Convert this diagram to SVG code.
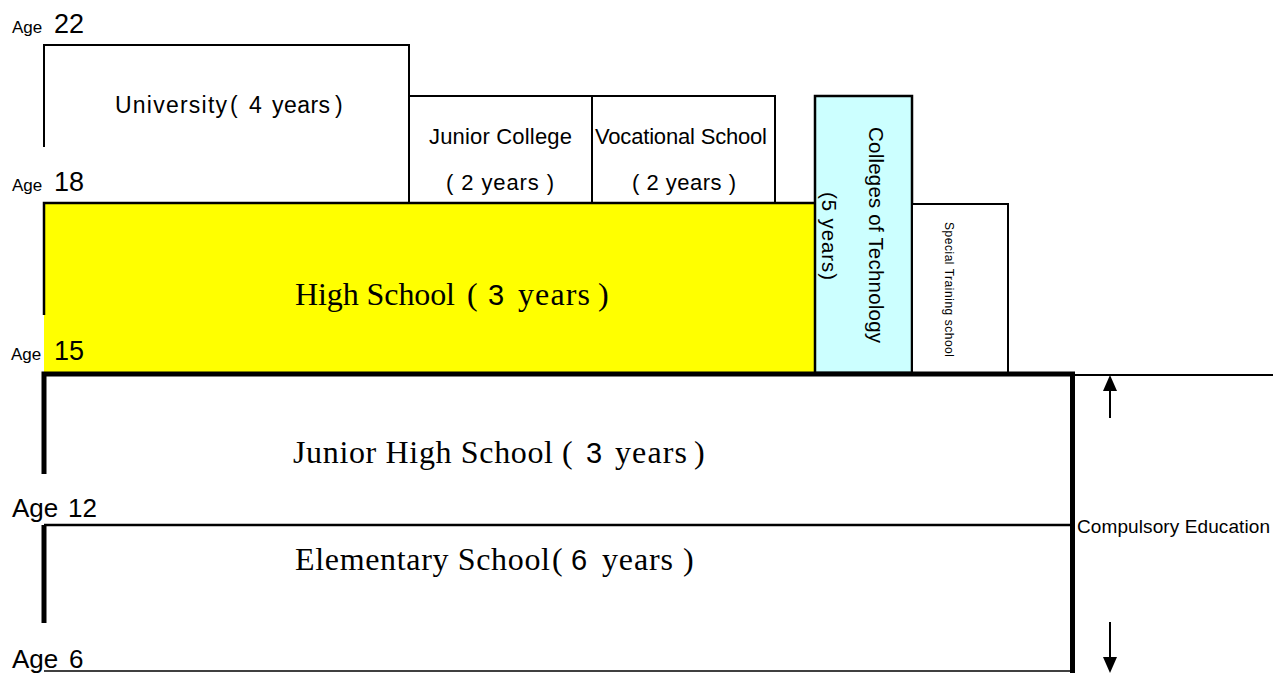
<svg xmlns="http://www.w3.org/2000/svg" width="1273" height="673" viewBox="0 0 1273 673">
<style>
.ln{stroke:#000;stroke-width:2;fill:none}
.thk{stroke:#000;stroke-width:5;fill:none}
.sans{font-family:"Liberation Sans",Arial,sans-serif;fill:#000}
.serif{font-family:"Liberation Serif","Times New Roman",serif;fill:#000}
.age{font-size:17px}
.num{font-size:27px}
.box{font-size:22px}
.big{font-size:32px}
.dig{font-family:"Liberation Sans",Arial,sans-serif;font-size:29px}
.arrow{fill:#000}
</style>
<rect width="1273" height="673" fill="#fff"/>

<g id="university">
<path class="ln" d="M44,147 V45 H409 V203"/>
<text class="sans" style="font-size:23px" x="115" y="113"><tspan textLength="112" lengthAdjust="spacing">University</tspan><tspan x="230">(</tspan><tspan x="249">4</tspan><tspan x="272" textLength="58" lengthAdjust="spacing">years</tspan><tspan x="335">)</tspan></text>
</g>

<g id="junior-college">
<path class="ln" d="M409,96 H592 V203"/>
<text class="sans box" x="429" y="144" textLength="143" lengthAdjust="spacing">Junior College</text>
<text class="sans box" x="446" y="190" textLength="108" lengthAdjust="spacing">( 2 years )</text>
</g>

<g id="vocational-school">
<path class="ln" d="M592,96 H775 V203"/>
<text class="sans box" x="595" y="144" textLength="172" lengthAdjust="spacing">Vocational School</text>
<text class="sans box" x="632" y="190" textLength="104" lengthAdjust="spacing">( 2 years )</text>
</g>

<g id="high-school">
<rect x="44" y="203" width="772" height="170" fill="#ffff00"/>
<path class="ln" d="M44,315 V203 H816" style="stroke-width:2.5"/>
<text class="serif big" x="295" y="305"><tspan textLength="160" lengthAdjust="spacing">High School</tspan><tspan x="467">(</tspan><tspan x="488" class="dig">3</tspan><tspan x="518" textLength="72" lengthAdjust="spacing">years</tspan><tspan x="598">)</tspan></text>
</g>

<g id="colleges-of-technology">
<rect x="815" y="96" width="97" height="277" fill="#ccffff" stroke="#000" stroke-width="2.5"/>
<text class="sans" style="font-size:20.5px" transform="translate(876,127) rotate(90)" dominant-baseline="central" textLength="216" lengthAdjust="spacing">Colleges of Technology</text>
<text class="sans" style="font-size:20.5px" transform="translate(829,192) rotate(90)" dominant-baseline="central" textLength="88" lengthAdjust="spacing">(5 years)</text>
</g>

<g id="special-training-school">
<rect x="912" y="204" width="96" height="169" fill="#fff" stroke="#000" stroke-width="2"/>
<text class="sans" style="font-size:12px" transform="translate(949,222) rotate(90)" dominant-baseline="central" textLength="135" lengthAdjust="spacing">Special Training school</text>
</g>

<g id="junior-high-school">
<path class="thk" d="M44,474 V374 H1075"/>
<text class="serif big" x="293" y="463"><tspan textLength="260" lengthAdjust="spacing">Junior High School</tspan><tspan x="562">(</tspan><tspan x="586" class="dig">3</tspan><tspan x="615" textLength="72" lengthAdjust="spacing">years</tspan><tspan x="694">)</tspan></text>
</g>

<g id="elementary-school">
<path class="ln" d="M44,525 H1072" style="stroke-width:2.5"/>
<path class="thk" d="M44,525 V623"/>
<path class="ln" d="M44,671 H1072" style="stroke-width:1.5"/>
<text class="serif big" x="295" y="570"><tspan textLength="255" lengthAdjust="spacing">Elementary School</tspan><tspan x="552">(</tspan><tspan x="571" class="dig">6</tspan><tspan x="602" textLength="71" lengthAdjust="spacing">years</tspan><tspan x="683">)</tspan></text>
</g>

<g id="compulsory-education">
<path class="thk" d="M1072.5,372 V673"/>
<path class="ln" d="M1075,375 H1273"/>
<text class="sans" style="font-size:19px" x="1077" y="533" textLength="193" lengthAdjust="spacing">Compulsory Education</text>
</g>

<g id="age-labels">
<text class="sans" x="12" y="33"><tspan class="age">Age</tspan><tspan class="num" x="54">22</tspan></text>
<text class="sans" x="12" y="191"><tspan class="age">Age</tspan><tspan class="num" x="54">18</tspan></text>
<text class="sans" x="11" y="360"><tspan class="age">Age</tspan><tspan class="num" x="54">15</tspan></text>
<text class="sans" style="font-size:26px" x="12" y="517"><tspan>Age</tspan><tspan x="68">12</tspan></text>
<text class="sans" style="font-size:26px" x="12" y="668"><tspan>Age</tspan><tspan x="69">6</tspan></text>
</g>

<g id="connectors">
<path d="M1110,418 V388" stroke="#000" stroke-width="2"/>
<polygon class="arrow" points="1110,375 1103,391 1117,391"/>
<path d="M1110,622 V660" stroke="#000" stroke-width="2"/>
<polygon class="arrow" points="1110,673 1103,657 1117,657"/>
</g>
</svg>
